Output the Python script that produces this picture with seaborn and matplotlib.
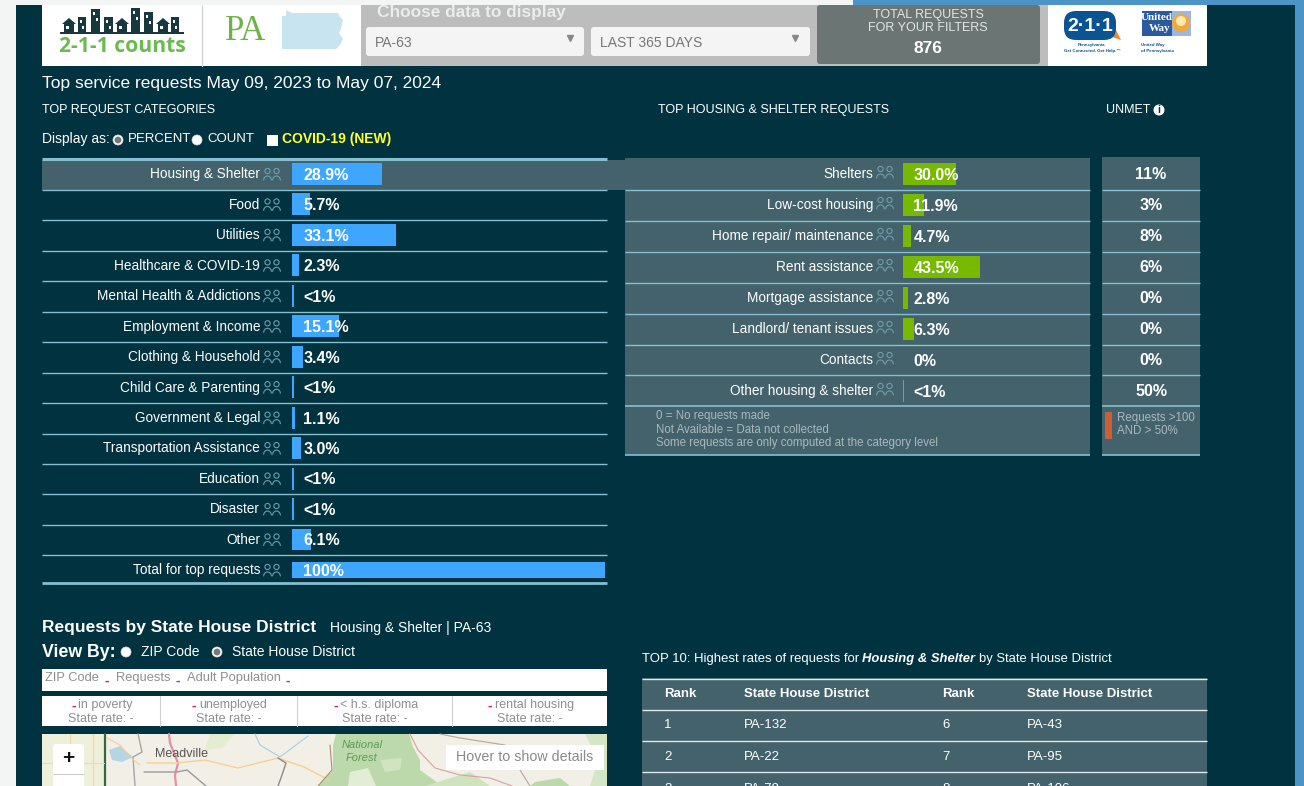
import numpy as np
import matplotlib
matplotlib.use('Agg')
import matplotlib.pyplot as plt
from matplotlib.patches import Rectangle, FancyBboxPatch, Circle, Polygon
from matplotlib.transforms import ScaledTranslation
import seaborn as sns

W, H = 1304, 786

categories = ['Housing & Shelter', 'Food', 'Utilities', 'Healthcare & COVID-19', 'Mental Health & Addictions',
              'Employment & Income', 'Clothing & Household', 'Child Care & Parenting', 'Government & Legal',
              'Transportation Assistance', 'Education', 'Disaster', 'Other', 'Total for top requests']
category_values = [28.9, 5.7, 33.1, 2.3, 0.5, 15.1, 3.4, 0.5, 1.1, 3.0, 0.5, 0.5, 6.1, 100]
category_labels = ['28.9%', '5.7%', '33.1%', '2.3%', '<1%', '15.1%', '3.4%', '<1%', '1.1%', '3.0%', '<1%', '<1%',
                   '6.1%', '100%']

housing = ['Shelters', 'Low-cost housing', 'Home repair/ maintenance', 'Rent assistance', 'Mortgage assistance',
           'Landlord/ tenant issues', 'Contacts', 'Other housing & shelter']
housing_values = [30.0, 11.9, 4.7, 43.5, 2.8, 6.3, 0, 0.5]
housing_labels = ['30.0%', '11.9%', '4.7%', '43.5%', '2.8%', '6.3%', '0%', '<1%']
unmet_labels = ['11%', '3%', '8%', '6%', '0%', '0%', '0%', '50%']

rank_left = ['1', '2', '3']
district_left = ['PA-132', 'PA-22', 'PA-79']
rank_right = ['6', '7', '8']
district_right = ['PA-43', 'PA-95', 'PA-106']

demographics = ['in poverty', 'unemployed', '< h.s. diploma', 'rental housing']

DARK = '#01323f'
BAND = '#43626b'
LINE = '#86bfd0'
BLUE = '#3fa6ff'
GREEN = '#76b900'
ICON = '#6f9eab'
GREY_TXT = '#8f8f8f'
NOTE = '#a9b9bd'

sns.set_theme(style='white')
plt.rcParams['font.family'] = ['Liberation Sans', 'DejaVu Sans']

fig = plt.figure(figsize=(W / 100, H / 100), dpi=100)
page = fig.add_axes([0, 0, 1, 1], zorder=0)
page.set_xlim(0, W)
page.set_ylim(H, 0)
page.axis('off')


def rect(x0, y0, x1, y1, color, z=1, **kw):
    page.add_patch(Rectangle((x0, y0), x1 - x0, y1 - y0, facecolor=color, edgecolor='none', zorder=z, **kw))


def hline(x0, x1, y, color=LINE, lw=1.0, z=2):
    page.plot([x0, x1], [y, y], color=color, lw=lw, zorder=z, solid_capstyle='butt')


def txt(x, y, s, size=10, color='white', weight='normal', ha='left', style='normal', z=5, **kw):
    return page.text(x, y + 1.3, s, fontsize=size, color=color, fontweight=weight, ha=ha, va='center',
                     fontstyle=style, zorder=z, **kw)


def box(x0, y0, x1, y1, color, radius=3, z=3, edge='none'):
    page.add_patch(FancyBboxPatch((x0 + radius, y0 + radius), x1 - x0 - 2 * radius, y1 - y0 - 2 * radius,
                                  boxstyle='round,pad=%d,rounding_size=%d' % (radius, radius),
                                  facecolor=color, edgecolor=edge, lw=0.6, zorder=z))


def person_icon(cx, cy):
    t = np.linspace(np.pi, 2 * np.pi, 20)
    for dx in (-4.5, 4.5):
        page.add_patch(Circle((cx + dx, cy - 3), 2.6, facecolor='none', edgecolor=ICON, lw=0.8, zorder=4))
        page.plot(cx + dx + 3.8 * np.cos(t), cy + 6 + 4 * np.sin(t), color=ICON, lw=0.8, zorder=4)


def radio(x, y, selected=False):
    page.add_patch(Circle((x, y), 5, facecolor='white', edgecolor='#dddddd', lw=0.5, zorder=5))
    if selected:
        page.add_patch(Circle((x, y), 3.4, facecolor='#777777', edgecolor='none', zorder=6))


def poly(points, color, z=2):
    page.add_patch(Polygon(points, facecolor=color, edgecolor='none', zorder=z))


def road(xs, ys, color, lw=1.0):
    page.plot(xs, ys, color=color, lw=lw, zorder=3, solid_capstyle='round')


# page background
rect(0, 0, W, H, '#f3f5f5', z=0)
rect(853, 0, W, 5, '#4c94c6', z=0.5)
rect(1295, 0, W, H, '#4c94c6', z=0.5)
rect(16, 5, 1295, H, DARK, z=0.6)

# header strip
rect(42, 5, 361, 66, 'white')
rect(361, 5, 1048, 66, '#bdbdbd')
rect(1048, 5, 1207, 66, 'white')
page.plot([202, 202], [5, 66], color='#d5d5d5', lw=1, zorder=2)

# 2-1-1 counts logo
SKY = '#17383f'
for x0, x1, top in [(78, 86, 17), (91, 100, 9), (104, 113, 17), (131, 140, 8), (144, 153, 12), (171, 179, 17)]:
    rect(x0, top, x1, 32, SKY, z=3)
    rect(x0 + 2, top + 3, x0 + 4, top + 6, 'white', z=4)
    rect(x1 - 4, top + 9, x1 - 2, top + 12, 'white', z=4)
for x0 in [63, 116, 157]:
    rect(x0 + 1, 23, x0 + 11, 32, SKY, z=3)
    poly([(x0 - 1, 24), (x0 + 6, 18), (x0 + 13, 24)], SKY, z=3)
    rect(x0 + 3, 26, x0 + 6, 29, 'white', z=4)
rect(60, 32, 184, 33.5, SKY, z=3)
txt(122, 45.5, '2-1-1 counts', size=15.2, color='#6cb94f', weight='bold', ha='center', family='Open Sans')

txt(246, 30, 'PA', size=25, color='#6db34a', ha='center', family='Liberation Serif')
poly([(282, 16), (286, 16), (286, 10), (292, 13), (338, 13), (340, 17), (343, 20), (341, 29),
      (339, 33), (343, 39), (340, 45), (336, 49), (282, 49)], '#c8e4f0', z=3)

# filters
txt(377, 11, 'Choose data to display', size=12.4, color='#ececec', weight='bold')
box(366, 27, 584, 56, '#f4f4f4')
box(591, 27, 810, 56, '#f4f4f4')
txt(375, 41.5, 'PA-63', size=10, color='#777777')
txt(600, 41.5, 'LAST 365 DAYS', size=10, color='#777777')
page.plot([570, 795], [38, 38], ls='none', marker='v', ms=4, color='#888888', zorder=5)
box(817, 5, 1040, 64, '#6b7674')
txt(928, 13.5, 'TOTAL REQUESTS', size=9, color='#e4e4e4', ha='center')
txt(928, 27, 'FOR YOUR FILTERS', size=9, color='#e4e4e4', ha='center')
txt(928, 47, '876', size=12.5, weight='bold', ha='center')

# partner logos
poly([(1113, 24), (1118, 34), (1121, 40), (1112, 37)], '#e9893a', z=2.5)
box(1064, 11, 1116, 40, '#0a5494', radius=12)
txt(1090, 25, '2·1·1', size=14, weight='bold', ha='center')
txt(1092, 44, 'Pennsylvania', size=3.2, color='#0a5494', weight='bold', ha='center')
txt(1092, 50, 'Get Connected. Get Help.™', size=3.2, color='#0a5494', weight='bold', ha='center')
rect(1142, 11, 1172, 36, '#2b5a9e', z=3)
rect(1172, 11, 1191, 36, '#9db7de', z=3)
txt(1157, 16.5, 'United', size=8, weight='bold', ha='center', family='Liberation Serif')
txt(1160, 27.5, 'Way', size=8, weight='bold', ha='center', family='Liberation Serif')
page.add_patch(Circle((1181, 23), 9, facecolor='#f2a93b', edgecolor='none', zorder=4))
page.add_patch(Circle((1181, 21), 5, facecolor='#ffe7b0', edgecolor='none', zorder=5))
txt(1141, 44, 'United Way', size=3.2, color='#0a5494', weight='bold')
txt(1141, 50, 'of Pennsylvania', size=3.2, color='#0a5494', weight='bold')

# section titles
txt(42, 82, 'Top service requests May 09, 2023 to May 07, 2024', size=12.5)
txt(42, 109, 'TOP REQUEST CATEGORIES', size=9)
txt(658, 109, 'TOP HOUSING & SHELTER REQUESTS', size=9)
txt(1106, 109, 'UNMET', size=9)
page.add_patch(Circle((1159, 110), 5.5, facecolor='white', edgecolor='none', zorder=5))
txt(1159, 109, 'i', size=7.5, color=DARK, weight='bold', ha='center', z=6)

txt(42, 138, 'Display as:', size=10)
radio(118, 140, True)
txt(128, 138, 'PERCENT', size=9.5)
radio(197, 140)
txt(207, 138, 'COUNT', size=9.5)
rect(267, 135, 278, 146, 'white', z=5)
txt(282, 138, 'COVID-19 (NEW)', size=10, color='#ffff33', weight='bold')

# left table
rows_left = len(categories)
row_left = 30.46
top_left = 174 - row_left / 2
rect(42, 160, 625, 190, BAND)
hline(42, 607, 158.5, lw=2.2)
for i in range(rows_left - 1):
    hline(42, 607, top_left + row_left * (i + 1) + 0.6)
hline(42, 607, 582.5, lw=2.0)
for i in range(rows_left):
    person_icon(272, 174 + row_left * i)

ax_left = fig.add_axes([292 / W, 1 - (top_left + row_left * rows_left) / H, 313 / W, row_left * rows_left / H],
                       zorder=2)
sns.barplot(x=category_values, y=categories, color=BLUE, width=0.72, saturation=1, ax=ax_left, orient='h',
            edgecolor='none', linewidth=0)
ax_left.patches[-1].set_y(rows_left - 1 - 0.25)
ax_left.patches[-1].set_height(0.5)
ax_left.set_xlim(0, 100)
ax_left.set_ylim(rows_left - 0.5, -0.5)
for i, label in enumerate(category_labels):
    ax_left.annotate(label, (0, i), xytext=(8, -1), textcoords='offset points', va='center', ha='left',
                     color='white', fontsize=11.5, fontweight='bold')

# right table
rows_right = len(housing)
row_right = 31.0
top_right = 174 - row_right / 2
rect(625, 158, 1090, 455, BAND)
rect(1102, 157, 1200, 455, BAND)
for y in [190, 221, 252, 283, 314, 345, 375]:
    hline(625, 1090, y)
    hline(1102, 1200, y)
hline(625, 1090, 405.5, lw=1.2)
hline(1102, 1200, 405.5, lw=1.2)
hline(625, 1090, 454.5, lw=1.2)
hline(1102, 1200, 454.5, lw=1.2)
for i in range(rows_right):
    person_icon(885, 172 + row_right * i)
    txt(1151, 173 + row_right * i, unmet_labels[i], size=11.5, weight='bold', ha='center')

ax_right = fig.add_axes([903 / W, 1 - (top_right + row_right * rows_right) / H, 187 / W, row_right * rows_right / H],
                        zorder=2)
sns.barplot(x=housing_values, y=housing, color=GREEN, width=0.7, saturation=1, ax=ax_right, orient='h',
            edgecolor='none', linewidth=0)
ax_right.set_xlim(0, 105.6)
ax_right.set_ylim(rows_right - 0.5, -0.5)
for i, label in enumerate(housing_labels):
    ax_right.annotate(label, (0, i), xytext=(7.5, -1), textcoords='offset points', va='center', ha='left',
                      color='white', fontsize=11.5, fontweight='bold')

for ax, pad in ((ax_left, 23), (ax_right, 21.5)):
    ax.patch.set_alpha(0)
    ax.set_xticks([])
    ax.set_xlabel('')
    ax.set_ylabel('')
    sns.despine(ax=ax, left=True, bottom=True)
    ax.tick_params(axis='y', length=0, pad=pad, labelsize=9.8, labelcolor='white')
    for lbl in ax.get_yticklabels():
        lbl.set_transform(lbl.get_transform() + ScaledTranslation(0, 1.2 / 100, fig.dpi_scale_trans))

txt(656, 415, '0 = No requests made', size=8.3, color=NOTE)
txt(656, 429, 'Not Available = Data not collected', size=8.3, color=NOTE)
txt(656, 442, 'Some requests are only computed at the category level', size=8.3, color=NOTE)
rect(1105, 412, 1112, 439, '#cc5f33', z=4)
txt(1117, 417, 'Requests >100', size=8.3, color=NOTE)
txt(1117, 430, 'AND > 50%', size=8.3, color=NOTE)

# district section
txt(42, 626, 'Requests by State House District', size=12.5, weight='bold')
txt(330, 627, 'Housing & Shelter | PA-63', size=10)
txt(42, 651, 'View By:', size=12.8, weight='bold')
radio(126, 652)
txt(141, 651, 'ZIP Code', size=10)
radio(217, 652, True)
txt(232, 651, 'State House District', size=10)

rect(42, 669, 607, 691, 'white')
txt(45, 677, 'ZIP Code', size=9.3, color=GREY_TXT)
txt(116, 677, 'Requests', size=9.3, color=GREY_TXT)
txt(187, 677, 'Adult Population', size=9.3, color=GREY_TXT)
for x, c in ((107, '#d6178c'), (178, '#2b6fd0'), (288, '#2b6fd0')):
    txt(x, 679, '-', size=10, color=c, weight='bold', ha='center')

rect(42, 696, 607, 726, 'white')
cell_x = [42, 160, 297, 452, 607]
name_x = [78, 199, 340, 495]
for i, name in enumerate(demographics):
    mid = (cell_x[i] + cell_x[i + 1]) / 2
    txt(name_x[i] - 7, 704, '-', size=10, color='#d6178c', weight='bold', ha='left')
    txt(name_x[i], 704, name, size=9, color=GREY_TXT)
    txt(mid, 718, 'State rate: -', size=9, color=GREY_TXT, ha='center')
    if i:
        page.plot([cell_x[i]] * 2, [696, 726], color='#cfcfcf', lw=0.8, zorder=3)

# map
rect(42, 734, 607, H, '#f2efe6')
rect(42, 734, 104, H, '#eef0dc')
FOREST = '#bcd9ab'
poly([(336, 734), (409, 734), (413, 747), (420, 760), (420, 770), (442, 786), (318, 786), (333, 770), (333, 745)], FOREST)
poly([(425, 786), (470, 772), (490, 786)], '#cfe3bf')
poly([(535, 782), (560, 778), (570, 786), (530, 786)], FOREST)
poly([(585, 734), (607, 734), (607, 786), (590, 786), (598, 760)], '#d5e6c6')
poly([(350, 772), (368, 768), (376, 786), (348, 786)], '#e3ecd4', z=2.2)
poly([(380, 760), (402, 758), (400, 770), (385, 772)], '#d0e4bf', z=2.2)
poly([(210, 734), (235, 734), (222, 748), (205, 750)], '#e4edcf')
poly([(109, 750), (120, 746), (133, 757), (122, 762), (112, 760)], '#b5d4e6', z=2.5)
road([104.5, 104.5], [734, H], '#2f6b3c', 1.6)
road([93, 93], [734, H], '#f7d7a0', 1.0)
road([70, 70], [734, H], '#f7d7a0', 0.8)
road([42, 104], [763, 763], '#f7d7a0', 0.8)
road([169, 170, 178, 175, 176], [734, 743, 763, 775, H], '#e58fa7', 1.6)
road([138, 142, 133, 135], [734, 752, 757, H], '#a6a6a6', 1.0)
road([144, 177, 187, 206], [772, 772, 770, 786], '#9a9a9a', 1.0)
road([147, 177, 205, 238, 278, 304, 329], [763, 763, 760, 768, 758, 767, 780], '#f6cf93', 1.0)
road([278, 286, 282, 278], [758, 763, 775, H], '#8a8a8a', 1.0)
road([107, 120, 130, 140], [738, 745, 757, 765], '#f6cf93', 0.8)
road([255, 260, 280, 300, 308], [734, 745, 757, 742, 736], '#a9cde0', 0.8)
road([410, 418, 435, 460, 490, 512], [734, 750, 768, 775, 778, 786], '#d9a0a0', 0.8)
road([440, 460, 505, 520, 530], [734, 738, 745, 770, 786], '#b5a89a', 0.8)
road([318, 332, 330], [786, 770, 745], '#a58f70', 0.8)
box(53, 744, 84, H + 8, 'white', radius=3, z=4)
hline(53, 84, 774, color='#cccccc', lw=0.8, z=5)
page.text(68.5, 759, '+', fontsize=15, color='#111111', fontweight='bold', ha='center', va='center', zorder=6)
txt(155, 753, 'Meadville', size=9, color='#555555', z=6)
txt(362, 744, 'National', size=8, color='#5d9a58', ha='center', style='italic', z=6)
txt(362, 757, 'Forest', size=8, color='#5d9a58', ha='center', style='italic', z=6)
rect(446, 745, 604, 770, 'white', z=5)
txt(525, 756, 'Hover to show details', size=10.3, color='#8a8a8a', ha='center', z=6)

# top 10 table
txt(642, 658, 'TOP 10: Highest rates of requests for', size=9.45)
txt(862, 658, 'Housing & Shelter', size=9.4, weight='bold', style='italic')
txt(979, 658, 'by State House District', size=9.35)
rect(642, 678, 1207, H, BAND)
for y in [678.5, 710, 741, 772]:
    hline(642, 1207, y, color='#dfe8ea', lw=1.0)
for x, s in zip([664, 744, 942, 1027], ['Rank', 'State House District', 'Rank', 'State House District']):
    txt(x, 693, s, size=9.5, weight='bold')
# last row runs off the bottom of the screenshot, same as the source
for i in range(3):
    y = 724 + 32 * i
    txt(664, y, rank_left[i], size=9.5)
    txt(744, y, district_left[i], size=9.5)
    txt(942, y, rank_right[i], size=9.5)
    txt(1027, y, district_right[i], size=9.5)
page.set_xlim(0, W)
page.set_ylim(H, 0)

fig.savefig('out.png', dpi=100, facecolor='white')
